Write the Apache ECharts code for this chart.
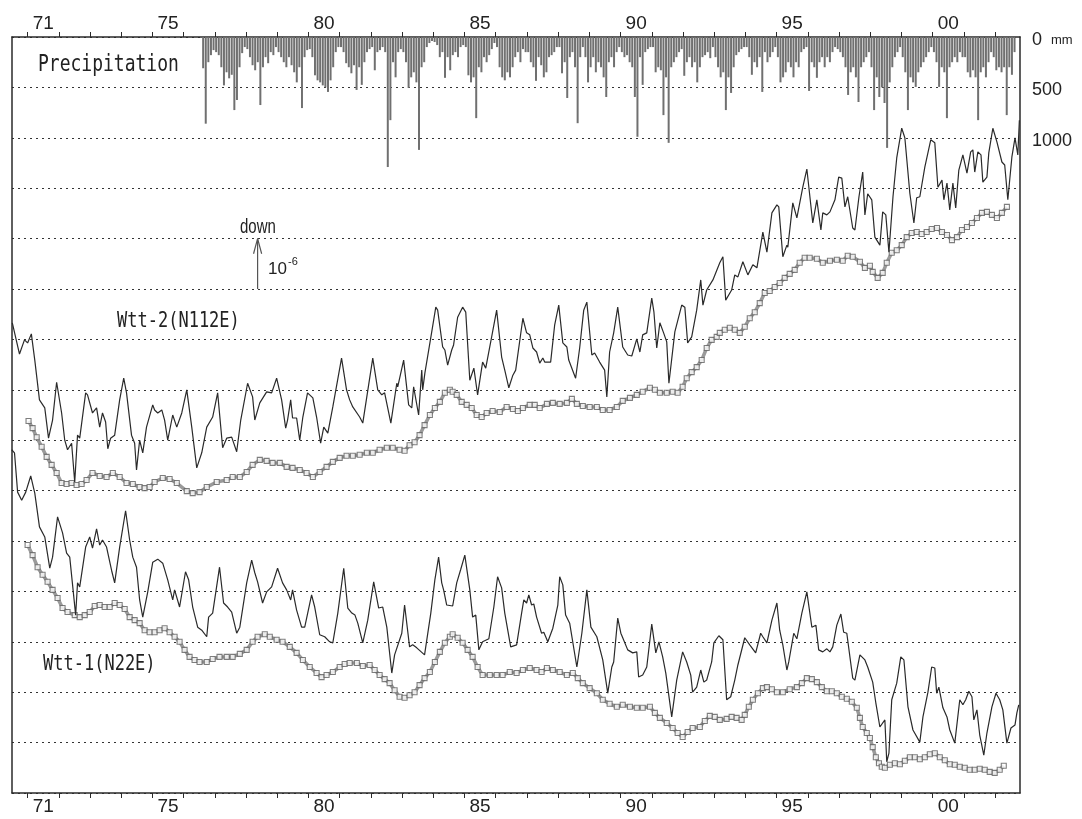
<!DOCTYPE html>
<html><head><meta charset="utf-8">
<script src="https://cdn.jsdelivr.net/npm/echarts@6/dist/echarts.min.js"></script>
<style>html,body{margin:0;padding:0;background:#fff}#c{width:1082px;height:819px}</style>
</head><body><div id="c"></div>
<script>
// ---- axes / labels ----
const tickYears = [1971,1972,1973,1974,1975,1976,1977,1978,1979,1980,1981,1982,1983,1984,1985,1986,1987,1988,1989,1990,1991,1992,1993,1994,1995,1996,1997,1998,1999,2000,2001,2002];
const labelYears = [1971.5,1975.5,1980.5,1985.5,1990.5,1995.5,2000.5];
const yearLabels = ['71','75','80','85','90','95','00'];
const precipTicks = [0,500,1000];
const precipTickLabels = ['0','500','1000'];

// ---- precipitation, monthly totals (mm) from Aug 1976 ----
const precipStartYear = 1976, precipStartMonth = 7; // 0-based month (Aug)
const precipMonthly = [
 310,860,250,180,130,
 150,180,300,480,350,410,375,725,625,300,160,100,
 120,200,280,330,250,675,300,200,260,150,180,100,
 150,200,250,300,200,280,350,450,300,705,200,130,
 120,200,380,430,450,480,500,545,430,300,150,100,
 100,150,260,300,360,280,525,300,475,250,150,120,
 100,330,150,130,100,150,1290,825,250,400,150,120,
 150,250,505,400,350,450,1120,300,250,100,60,40,
 50,80,200,150,405,200,330,180,150,200,100,80,
 100,380,450,400,805,300,350,200,250,180,120,60,
 100,300,400,430,350,400,300,200,150,250,120,150,
 150,250,300,435,200,280,400,350,200,180,150,100,
 100,360,250,605,200,150,300,855,200,100,200,450,
 300,200,350,250,300,400,595,250,200,300,150,100,
 150,200,180,250,300,595,990,200,475,150,120,100,
 100,350,300,330,775,400,1050,300,250,200,150,120,
 385,250,200,300,250,450,300,200,180,150,210,100,
 200,300,400,350,725,400,555,300,180,150,120,100,
 100,200,375,250,300,200,545,150,250,200,150,100,
 200,450,400,350,250,300,400,250,300,150,120,100,
 535,250,300,405,250,200,300,200,250,150,100,120,
 150,200,300,575,350,300,400,645,300,250,200,150,
 300,725,400,595,500,655,1100,450,300,200,150,100,
 200,350,725,400,450,495,350,300,250,200,150,100,
 150,250,495,300,350,805,300,250,200,250,150,200,
 200,350,400,330,400,825,350,300,400,250,150,200,
 330,300,350,300,775,300,375,150
];

// ---- strain records (1e-6 units, arbitrary offset) ----
const wtt2Raw = [[1970.51,9.33],[1970.74,8.71],[1970.90,8.99],[1971.00,8.93],[1971.12,9.11],[1971.23,8.59],[1971.38,7.80],[1971.55,7.64],[1971.61,7.64],[1971.67,7.04],[1971.80,7.40],[1971.93,8.15],[1972.09,7.54],[1972.19,7.00],[1972.28,6.81],[1972.41,6.94],[1972.51,6.17],[1972.60,7.10],[1972.67,7.04],[1972.86,7.94],[1972.92,7.90],[1973.08,7.54],[1973.21,7.64],[1973.31,7.26],[1973.40,7.54],[1973.50,7.36],[1973.57,6.83],[1973.66,7.04],[1973.79,7.10],[1973.95,7.80],[1974.08,8.23],[1974.17,7.94],[1974.33,7.10],[1974.43,6.94],[1974.49,6.41],[1974.59,7.00],[1974.69,6.75],[1974.81,7.26],[1975.01,7.70],[1975.07,7.60],[1975.17,7.54],[1975.30,7.60],[1975.39,7.40],[1975.49,7.00],[1975.65,7.50],[1975.78,7.26],[1975.94,7.54],[1976.10,8.00],[1976.26,7.26],[1976.42,6.45],[1976.58,6.75],[1976.74,7.26],[1976.93,7.46],[1977.09,7.94],[1977.25,6.85],[1977.38,7.04],[1977.54,7.06],[1977.70,6.77],[1977.83,7.40],[1978.05,8.13],[1978.21,7.86],[1978.28,7.40],[1978.44,7.74],[1978.66,7.96],[1978.82,7.94],[1978.98,8.23],[1979.14,7.80],[1979.27,7.24],[1979.33,7.40],[1979.43,7.80],[1979.49,7.44],[1979.62,7.44],[1979.72,7.00],[1979.82,7.46],[1979.97,7.94],[1980.14,7.84],[1980.26,7.46],[1980.39,6.94],[1980.49,7.26],[1980.62,7.14],[1980.78,7.66],[1981.06,8.63],[1981.22,8.00],[1981.32,7.80],[1981.42,7.66],[1981.64,7.46],[1981.74,7.34],[1982.06,8.63],[1982.22,8.00],[1982.35,7.90],[1982.44,7.94],[1982.64,7.34],[1982.83,8.13],[1982.86,8.06],[1983.05,8.59],[1983.21,7.70],[1983.31,7.64],[1983.37,8.06],[1983.53,7.50],[1983.63,8.39],[1983.66,8.00],[1983.73,8.33],[1983.95,9.15],[1984.08,9.64],[1984.14,9.58],[1984.30,8.85],[1984.37,8.79],[1984.46,8.49],[1984.59,8.79],[1984.65,8.89],[1984.78,9.44],[1984.94,9.64],[1985.04,9.54],[1985.17,8.19],[1985.30,8.43],[1985.42,7.90],[1985.58,8.55],[1985.68,8.43],[1985.87,9.05],[1986.03,9.58],[1986.19,8.65],[1986.29,8.39],[1986.42,8.04],[1986.55,8.29],[1986.64,8.39],[1986.87,9.42],[1986.99,9.13],[1987.09,9.09],[1987.19,8.83],[1987.31,8.75],[1987.41,8.53],[1987.51,8.63],[1987.57,8.55],[1987.76,8.55],[1987.89,9.29],[1988.02,9.68],[1988.15,8.93],[1988.28,8.85],[1988.34,8.59],[1988.56,8.23],[1988.69,8.83],[1988.82,9.58],[1988.92,9.74],[1989.08,8.69],[1989.17,8.73],[1989.33,8.55],[1989.49,8.39],[1989.56,7.86],[1989.65,8.75],[1989.78,9.13],[1989.91,9.64],[1990.07,8.85],[1990.23,8.69],[1990.36,8.67],[1990.52,9.01],[1990.62,8.75],[1990.71,9.09],[1990.84,9.13],[1991.00,9.82],[1991.07,9.54],[1991.16,8.83],[1991.26,9.33],[1991.38,9.13],[1991.48,8.95],[1991.55,8.13],[1991.74,9.15],[1991.96,9.68],[1992.06,9.64],[1992.15,8.93],[1992.28,9.05],[1992.44,9.58],[1992.57,10.18],[1992.64,9.68],[1992.76,9.98],[1992.96,10.18],[1993.18,10.52],[1993.28,10.64],[1993.37,9.78],[1993.56,9.98],[1993.66,10.28],[1993.76,10.24],[1993.92,10.54],[1993.98,10.52],[1994.08,10.28],[1994.24,10.48],[1994.37,10.42],[1994.56,11.13],[1994.69,10.73],[1994.85,11.51],[1995.01,11.67],[1995.07,11.63],[1995.20,10.64],[1995.33,10.87],[1995.36,10.83],[1995.52,11.71],[1995.65,11.41],[1995.84,12.02],[1995.97,12.38],[1996.16,11.31],[1996.29,11.77],[1996.42,11.17],[1996.48,11.51],[1996.61,11.47],[1996.71,11.53],[1996.87,11.77],[1996.99,12.22],[1997.09,12.20],[1997.19,11.63],[1997.28,11.83],[1997.44,11.21],[1997.51,11.17],[1997.64,11.83],[1997.76,12.32],[1997.83,11.47],[1997.92,11.89],[1998.05,11.77],[1998.15,11.03],[1998.31,10.87],[1998.40,11.53],[1998.50,11.47],[1998.60,10.73],[1998.73,11.83],[1998.85,12.60],[1999.01,13.19],[1999.11,13.00],[1999.27,11.90],[1999.40,11.31],[1999.49,11.81],[1999.59,11.83],[1999.75,12.42],[1999.94,12.96],[2000.07,12.90],[2000.17,12.02],[2000.30,12.16],[2000.36,11.77],[2000.46,12.10],[2000.55,11.57],[2000.65,12.10],[2000.74,11.61],[2000.84,12.36],[2000.97,12.66],[2001.10,12.30],[2001.22,12.72],[2001.29,12.76],[2001.35,12.32],[2001.45,12.72],[2001.55,12.66],[2001.61,12.12],[2001.74,12.22],[2001.80,12.70],[2001.93,13.19],[2002.06,12.92],[2002.12,12.90],[2002.22,12.52],[2002.31,12.46],[2002.41,11.77],[2002.54,12.62],[2002.64,13.00],[2002.73,12.66],[2002.78,13.35]];

const wtt2Smooth = [[1971.03,7.38],[1971.16,7.24],[1971.29,7.06],[1971.45,6.87],[1971.61,6.67],[1971.77,6.51],[1971.93,6.35],[1972.09,6.15],[1972.25,6.13],[1972.41,6.15],[1972.57,6.11],[1972.73,6.13],[1972.89,6.21],[1973.08,6.35],[1973.31,6.29],[1973.53,6.27],[1973.73,6.35],[1973.95,6.27],[1974.17,6.15],[1974.37,6.13],[1974.59,6.07],[1974.75,6.05],[1974.91,6.07],[1975.07,6.17],[1975.33,6.25],[1975.55,6.23],[1975.78,6.15],[1976.10,5.99],[1976.29,5.95],[1976.51,5.97],[1976.74,6.07],[1977.06,6.17],[1977.38,6.21],[1977.57,6.27],[1977.80,6.27],[1978.02,6.37],[1978.21,6.51],[1978.44,6.61],[1978.66,6.59],[1978.85,6.55],[1979.08,6.55],[1979.30,6.47],[1979.49,6.45],[1979.72,6.41],[1979.94,6.35],[1980.14,6.27],[1980.36,6.37],[1980.58,6.47],[1980.78,6.57],[1981.00,6.65],[1981.22,6.69],[1981.42,6.69],[1981.64,6.71],[1981.87,6.75],[1982.06,6.75],[1982.28,6.81],[1982.51,6.85],[1982.70,6.85],[1982.92,6.81],[1983.08,6.79],[1983.24,6.90],[1983.40,6.96],[1983.56,7.10],[1983.72,7.30],[1983.89,7.50],[1984.05,7.64],[1984.21,7.76],[1984.37,7.94],[1984.53,8.00],[1984.62,7.96],[1984.75,7.90],[1984.91,7.76],[1985.07,7.70],[1985.23,7.64],[1985.39,7.50],[1985.55,7.46],[1985.71,7.54],[1985.90,7.58],[1986.13,7.56],[1986.35,7.66],[1986.55,7.62],[1986.71,7.58],[1986.87,7.64],[1987.09,7.70],[1987.25,7.70],[1987.41,7.64],[1987.64,7.72],[1987.83,7.74],[1988.05,7.72],[1988.28,7.74],[1988.44,7.82],[1988.60,7.72],[1988.79,7.68],[1989.01,7.66],[1989.24,7.66],[1989.43,7.60],[1989.65,7.60],[1989.88,7.66],[1990.07,7.78],[1990.30,7.84],[1990.52,7.90],[1990.71,7.96],[1990.94,8.04],[1991.10,8.00],[1991.26,7.94],[1991.48,7.94],[1991.67,7.96],[1991.83,7.94],[1991.99,8.06],[1992.12,8.23],[1992.28,8.35],[1992.44,8.45],[1992.60,8.59],[1992.76,8.83],[1992.92,8.99],[1993.08,9.05],[1993.18,9.13],[1993.34,9.19],[1993.50,9.23],[1993.66,9.19],[1993.82,9.13],[1993.98,9.25],[1994.14,9.42],[1994.30,9.54],[1994.46,9.72],[1994.62,9.92],[1994.78,9.96],[1994.94,10.04],[1995.10,10.12],[1995.26,10.22],[1995.42,10.30],[1995.58,10.38],[1995.74,10.52],[1995.90,10.62],[1996.06,10.62],[1996.29,10.60],[1996.48,10.52],[1996.71,10.56],[1996.93,10.58],[1997.12,10.56],[1997.28,10.66],[1997.44,10.64],[1997.67,10.54],[1997.83,10.42],[1997.99,10.46],[1998.08,10.34],[1998.24,10.22],[1998.40,10.32],[1998.53,10.52],[1998.69,10.72],[1998.85,10.77],[1999.01,10.87],[1999.17,11.03],[1999.33,11.11],[1999.49,11.13],[1999.65,11.09],[1999.81,11.13],[1999.97,11.19],[2000.14,11.21],[2000.30,11.13],[2000.46,11.07],[2000.62,10.97],[2000.78,11.03],[2000.94,11.17],[2001.10,11.23],[2001.26,11.31],[2001.42,11.41],[2001.58,11.51],[2001.74,11.53],[2001.90,11.47],[2002.06,11.41],[2002.22,11.51],[2002.38,11.63]];

const wtt1Raw = [[1970.49,6.81],[1970.58,6.75],[1970.68,5.97],[1970.81,5.81],[1970.94,5.97],[1971.10,6.29],[1971.23,5.95],[1971.38,5.28],[1971.55,5.08],[1971.71,4.46],[1971.80,4.68],[1971.96,5.48],[1972.12,5.16],[1972.25,4.76],[1972.35,4.68],[1972.54,3.53],[1972.60,4.17],[1972.67,4.09],[1972.86,4.88],[1972.99,5.08],[1973.08,4.86],[1973.21,5.24],[1973.31,4.92],[1973.40,5.02],[1973.53,4.88],[1973.69,4.42],[1973.79,4.17],[1973.95,4.88],[1974.14,5.60],[1974.27,5.02],[1974.37,4.68],[1974.49,4.48],[1974.59,3.83],[1974.69,3.49],[1974.85,3.99],[1975.01,4.58],[1975.17,4.64],[1975.33,4.56],[1975.49,4.23],[1975.65,3.83],[1975.71,4.03],[1975.87,3.69],[1976.06,4.39],[1976.16,4.23],[1976.29,3.69],[1976.45,3.29],[1976.58,3.23],[1976.74,3.10],[1976.80,3.49],[1976.93,3.57],[1977.15,4.48],[1977.28,3.77],[1977.41,3.69],[1977.54,3.59],[1977.70,3.17],[1977.80,3.29],[1978.02,4.17],[1978.18,4.62],[1978.28,4.37],[1978.37,4.19],[1978.53,3.77],[1978.66,3.99],[1978.82,4.09],[1979.01,4.46],[1979.17,4.17],[1979.30,4.03],[1979.43,3.83],[1979.49,4.03],[1979.62,3.63],[1979.78,3.29],[1979.88,3.29],[1980.10,3.93],[1980.20,3.69],[1980.36,3.14],[1980.52,3.10],[1980.68,3.00],[1980.78,2.98],[1980.94,3.57],[1981.13,4.46],[1981.26,3.67],[1981.39,3.57],[1981.49,3.53],[1981.58,3.37],[1981.74,2.98],[1981.90,3.43],[1982.09,4.19],[1982.25,3.67],[1982.38,3.69],[1982.51,3.29],[1982.67,2.38],[1982.76,2.74],[1982.99,3.17],[1983.08,3.73],[1983.24,2.90],[1983.34,2.94],[1983.47,2.88],[1983.72,2.74],[1983.92,3.57],[1984.05,4.23],[1984.17,4.68],[1984.27,4.17],[1984.33,4.03],[1984.43,3.73],[1984.62,3.71],[1984.75,4.17],[1984.88,4.44],[1985.01,4.72],[1985.17,4.03],[1985.26,3.49],[1985.36,3.53],[1985.46,2.84],[1985.58,3.00],[1985.78,3.06],[1985.94,3.69],[1986.06,4.29],[1986.19,4.07],[1986.29,3.57],[1986.48,2.90],[1986.67,2.94],[1986.83,3.57],[1986.90,3.83],[1986.99,3.77],[1987.06,3.93],[1987.15,3.73],[1987.22,3.75],[1987.31,3.49],[1987.47,3.17],[1987.54,3.19],[1987.67,3.00],[1987.83,3.27],[1987.99,3.73],[1988.05,4.29],[1988.15,4.13],[1988.24,3.53],[1988.37,3.37],[1988.60,2.50],[1988.76,3.17],[1988.92,4.03],[1989.05,3.29],[1989.24,3.10],[1989.43,2.64],[1989.59,1.98],[1989.72,2.50],[1989.78,2.60],[1989.91,3.47],[1990.01,3.17],[1990.07,3.08],[1990.23,2.84],[1990.39,2.78],[1990.52,2.80],[1990.58,2.30],[1990.71,2.34],[1990.84,2.50],[1991.00,3.35],[1991.13,2.78],[1991.23,3.00],[1991.35,2.70],[1991.45,2.38],[1991.64,1.51],[1991.67,1.49],[1991.80,2.24],[1991.99,2.80],[1992.12,2.60],[1992.25,2.34],[1992.31,2.00],[1992.44,2.10],[1992.57,2.44],[1992.67,2.20],[1992.76,2.24],[1992.92,2.60],[1992.99,2.98],[1993.15,3.12],[1993.28,3.04],[1993.40,1.85],[1993.53,1.91],[1993.66,2.24],[1993.76,2.54],[1993.98,3.08],[1994.14,2.94],[1994.33,2.78],[1994.49,3.17],[1994.56,3.10],[1994.69,2.98],[1994.85,3.43],[1995.01,3.77],[1995.10,3.23],[1995.20,2.94],[1995.33,2.44],[1995.39,2.60],[1995.55,3.17],[1995.65,3.06],[1995.81,3.57],[1995.97,3.99],[1996.13,3.29],[1996.26,3.33],[1996.35,2.84],[1996.48,2.80],[1996.61,2.86],[1996.71,2.80],[1996.80,2.90],[1996.93,3.33],[1997.06,3.55],[1997.15,3.19],[1997.25,3.17],[1997.44,2.28],[1997.51,2.24],[1997.67,2.74],[1997.83,2.64],[1997.92,2.50],[1998.08,2.20],[1998.18,1.79],[1998.31,1.31],[1998.47,1.45],[1998.53,0.62],[1998.60,0.79],[1998.69,1.85],[1998.85,2.18],[1998.98,2.70],[1999.08,2.64],[1999.21,1.71],[1999.37,1.25],[1999.59,1.01],[1999.69,1.51],[1999.85,2.00],[1999.97,2.50],[2000.07,2.48],[2000.13,1.98],[2000.20,2.10],[2000.33,1.69],[2000.46,1.51],[2000.55,1.25],[2000.71,0.99],[2000.87,1.85],[2000.97,1.75],[2001.06,1.85],[2001.16,2.02],[2001.26,1.91],[2001.32,1.45],[2001.42,1.65],[2001.51,1.15],[2001.64,0.75],[2001.74,1.19],[2001.90,1.71],[2002.03,1.98],[2002.15,1.85],[2002.25,1.65],[2002.38,0.99],[2002.51,1.29],[2002.64,1.35],[2002.70,1.59],[2002.76,1.75]];

const wtt1Smooth = [[1971.00,4.92],[1971.16,4.72],[1971.32,4.48],[1971.48,4.33],[1971.64,4.19],[1971.80,4.03],[1971.96,3.87],[1972.12,3.67],[1972.28,3.59],[1972.51,3.53],[1972.67,3.49],[1972.83,3.53],[1972.99,3.59],[1973.15,3.71],[1973.31,3.73],[1973.47,3.69],[1973.63,3.69],[1973.79,3.77],[1973.95,3.73],[1974.11,3.65],[1974.27,3.49],[1974.43,3.43],[1974.59,3.37],[1974.75,3.23],[1974.91,3.19],[1975.07,3.19],[1975.23,3.23],[1975.39,3.27],[1975.55,3.19],[1975.71,3.10],[1975.87,3.00],[1976.03,2.84],[1976.19,2.70],[1976.35,2.64],[1976.51,2.60],[1976.74,2.60],[1976.93,2.66],[1977.15,2.70],[1977.38,2.70],[1977.57,2.70],[1977.80,2.76],[1978.02,2.84],[1978.21,3.00],[1978.37,3.10],[1978.60,3.15],[1978.76,3.10],[1978.98,3.04],[1979.17,3.00],[1979.40,2.90],[1979.62,2.78],[1979.82,2.64],[1980.04,2.50],[1980.26,2.38],[1980.42,2.30],[1980.58,2.34],[1980.78,2.40],[1981.00,2.50],[1981.16,2.56],[1981.32,2.58],[1981.55,2.58],[1981.74,2.52],[1981.96,2.54],[1982.12,2.44],[1982.28,2.34],[1982.44,2.26],[1982.60,2.18],[1982.76,2.04],[1982.92,1.91],[1983.08,1.89],[1983.24,1.94],[1983.40,2.00],[1983.56,2.14],[1983.72,2.28],[1983.89,2.40],[1984.05,2.60],[1984.21,2.80],[1984.37,2.98],[1984.53,3.10],[1984.62,3.15],[1984.78,3.08],[1984.94,2.98],[1985.10,2.84],[1985.26,2.70],[1985.42,2.50],[1985.58,2.34],[1985.81,2.34],[1986.03,2.34],[1986.22,2.34],[1986.45,2.40],[1986.67,2.38],[1986.87,2.44],[1987.09,2.48],[1987.31,2.44],[1987.47,2.40],[1987.64,2.48],[1987.83,2.44],[1988.05,2.40],[1988.28,2.34],[1988.47,2.38],[1988.63,2.28],[1988.79,2.18],[1989.01,2.08],[1989.24,1.98],[1989.43,1.85],[1989.65,1.77],[1989.88,1.71],[1990.07,1.75],[1990.30,1.71],[1990.52,1.69],[1990.71,1.69],[1990.94,1.71],[1991.10,1.59],[1991.26,1.49],[1991.48,1.39],[1991.67,1.29],[1991.83,1.19],[1991.99,1.11],[1992.15,1.21],[1992.31,1.29],[1992.54,1.31],[1992.70,1.43],[1992.86,1.53],[1993.02,1.51],[1993.18,1.45],[1993.40,1.47],[1993.56,1.51],[1993.72,1.49],[1993.88,1.45],[1993.98,1.55],[1994.11,1.71],[1994.24,1.85],[1994.40,1.98],[1994.56,2.08],[1994.69,2.10],[1994.85,2.06],[1995.01,2.00],[1995.20,2.00],[1995.42,2.06],[1995.65,2.10],[1995.81,2.18],[1995.97,2.28],[1996.13,2.26],[1996.29,2.20],[1996.45,2.10],[1996.61,2.02],[1996.77,2.02],[1996.93,1.98],[1997.09,1.91],[1997.25,1.87],[1997.41,1.81],[1997.57,1.69],[1997.67,1.49],[1997.76,1.31],[1997.89,1.19],[1997.99,1.09],[1998.08,0.91],[1998.18,0.71],[1998.28,0.59],[1998.37,0.52],[1998.47,0.50],[1998.63,0.56],[1998.79,0.59],[1998.95,0.57],[1999.11,0.64],[1999.27,0.71],[1999.43,0.71],[1999.59,0.67],[1999.75,0.71],[1999.91,0.77],[2000.07,0.79],[2000.23,0.71],[2000.39,0.65],[2000.55,0.57],[2000.71,0.56],[2000.87,0.52],[2001.03,0.50],[2001.19,0.46],[2001.35,0.46],[2001.51,0.48],[2001.67,0.46],[2001.83,0.42],[2001.99,0.40],[2002.15,0.46],[2002.28,0.54]];

// scale bar: 1e-6 arrow
const scaleBarYear = 1978.37;
const scaleBarFrom = 10, scaleBarTo = 11;

// ---- build ----
const precipData = precipMonthly.map((v, i) => [precipStartYear + (precipStartMonth + i + 0.5) / 12, v]);

function yearFmt(v) {
  for (let i = 0; i < labelYears.length; i++) if (Math.abs(v - labelYears[i]) < 1e-6) return yearLabels[i];
  return '';
}
function precipFmt(v) {
  const i = precipTicks.indexOf(v);
  if (i < 0) return '';
  return i === 0 ? precipTickLabels[0] + ' {u|mm}' : precipTickLabels[i];
}

const INK = '#2a2a2a';
const xAxisCommon = {
  type: 'value', min: 1970.5, max: 2002.8,
  axisLine: { show: true, onZero: false, lineStyle: { color: INK, width: 1.5 } },
  axisTick: { show: true, inside: false, length: 5, customValues: tickYears, lineStyle: { color: INK, width: 1 } },
  axisLabel: { show: true, customValues: labelYears, formatter: yearFmt, fontFamily: 'Liberation Sans', fontSize: 19, color: '#222', margin: 4 },
  splitLine: { show: false }
};

const smoothStyle = { color: '#fff', borderColor: '#5e5e5e', borderWidth: 1.1 };
function smoothTube(data) {
  return { type: 'line', data: data, symbol: 'none', silent: true, z: 1,
    lineStyle: { color: '#9a9a9a', width: 3.5 } };
}

const option = {
  animation: false,
  backgroundColor: '#fff',
  grid: { left: 12, right: 62, top: 37, bottom: 26, outerBoundsMode: 'none' },
  xAxis: [
    Object.assign({}, xAxisCommon, { position: 'bottom' }),
    Object.assign({}, xAxisCommon, { position: 'top' })
  ],
  yAxis: [
    { type: 'value', min: 0, max: 15, interval: 1, position: 'left',
      axisLine: { show: true, onZero: false, lineStyle: { color: INK, width: 1.5 } },
      axisTick: { show: false }, axisLabel: { show: false },
      splitLine: { show: true, lineStyle: { type: [2, 4], color: '#333', width: 1.2 } } },
    { type: 'value', min: 0, max: 7500, interval: 500, inverse: true, position: 'right',
      axisLine: { show: true, onZero: false, lineStyle: { color: INK, width: 1.5 } },
      axisTick: { show: false }, splitLine: { show: false },
      axisLabel: { show: true, customValues: precipTicks, formatter: precipFmt, showMinLabel: true,
        fontFamily: 'Liberation Sans', fontSize: 18, color: '#222', margin: 12, padding: [6, 0, 0, 0],
        rich: { u: { fontFamily: 'Liberation Sans', fontSize: 13, color: '#222', padding: [0, 0, 0, 4] } } } }
  ],
  series: [
    { name: 'Precipitation', type: 'bar', xAxisIndex: 0, yAxisIndex: 1, data: precipData, barWidth: 2,
      itemStyle: { color: '#707070' }, silent: true },
    smoothTube(wtt2Smooth),
    smoothTube(wtt1Smooth),
    { name: 'Wtt-2', type: 'line', data: wtt2Raw, symbol: 'none', lineStyle: { color: INK, width: 1.2 }, z: 3 },
    { name: 'Wtt-2 smoothed', type: 'scatter', data: wtt2Smooth, symbol: 'rect', symbolSize: 5, itemStyle: smoothStyle, z: 2 },
    { name: 'Wtt-1', type: 'line', data: wtt1Raw, symbol: 'none', lineStyle: { color: INK, width: 1.2 }, z: 3 },
    { name: 'Wtt-1 smoothed', type: 'scatter', data: wtt1Smooth, symbol: 'rect', symbolSize: 5, itemStyle: smoothStyle, z: 2 },
    { name: 'scale', type: 'line', data: [[scaleBarYear, scaleBarFrom], [scaleBarYear, scaleBarTo]], symbol: 'none',
      lineStyle: { color: '#555', width: 1.2 }, silent: true },
    { name: 'scaleHead', type: 'line', data: [[scaleBarYear - 0.13, scaleBarTo - 0.3], [scaleBarYear, scaleBarTo], [scaleBarYear + 0.13, scaleBarTo - 0.3]],
      symbol: 'none', lineStyle: { color: '#555', width: 1.2 }, silent: true }
  ],
  graphic: [
    { type: 'text', x: 38, y: 65, scaleY: 1.25, style: { text: 'Precipitation', font: '18px "DejaVu Sans Mono"', fill: '#222', textVerticalAlign: 'middle' } },
    { type: 'text', x: 117, y: 321, scaleY: 1.25, style: { text: 'Wtt-2(N112E)', font: '17px "DejaVu Sans Mono"', fill: '#222', textVerticalAlign: 'middle' } },
    { type: 'text', x: 43, y: 664, scaleY: 1.25, style: { text: 'Wtt-1(N22E)', font: '17px "DejaVu Sans Mono"', fill: '#222', textVerticalAlign: 'middle' } },
    { type: 'text', x: 240, y: 227, scaleY: 1.35, style: { text: 'down', font: '15px "Liberation Sans"', fill: '#222', textVerticalAlign: 'middle' } },
    { type: 'text', x: 268, y: 269, style: { text: '10', font: '17px "Liberation Sans"', fill: '#222', textVerticalAlign: 'middle' } },
    { type: 'text', x: 288, y: 262, style: { text: '-6', font: '11px "Liberation Sans"', fill: '#222', textVerticalAlign: 'middle' } }
  ]
};

const chart = echarts.init(document.getElementById('c'), null, { renderer: 'canvas' });
chart.setOption(option);
</script>
</body></html>
